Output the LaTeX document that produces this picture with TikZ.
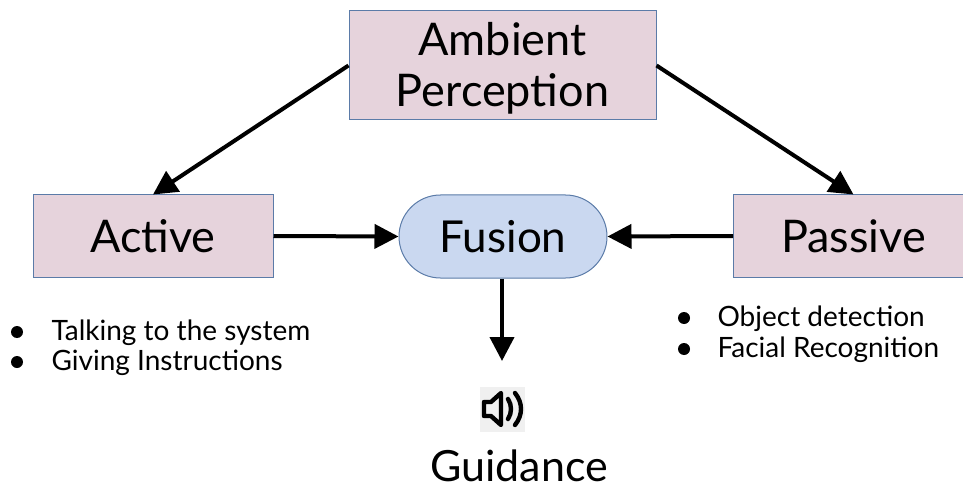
\documentclass[tikz,border=0pt]{standalone}
\usepackage{fontspec}
\setmainfont{Lato}
\usetikzlibrary{positioning,shapes.misc,arrows.meta}
\definecolor{boxpink}{HTML}{E6D3DC}
\definecolor{boxblue}{HTML}{CAD8F0}
\definecolor{boxline}{HTML}{5B7BA8}
\begin{document}
\begin{tikzpicture}[x=1pt,y=-1pt,
    sourcebox/.style={draw=boxline,fill=boxpink,line width=1pt,inner sep=0pt,align=center,font=\fontsize{45}{51}\selectfont},
    fusionbox/.style={draw=boxline,fill=boxblue,line width=1pt,rounded rectangle,inner sep=0pt,font=\fontsize{44}{52}\selectfont},
    flow/.style={line width=4pt,-{Triangle[length=24pt,width=24pt]}},
    notes/.style={anchor=west,font=\fontsize{28}{34}\selectfont},
    dot/.style={circle,fill=black,inner sep=0pt,minimum size=12pt}]
  \useasboundingbox (0,0) rectangle (963,489);
  % boxes
  \node[sourcebox,minimum width=307pt,minimum height=109pt,text height=90pt] (ambient) at (502.5,65.5) {Ambient\\Perception};
  \node[sourcebox,minimum width=240pt,minimum height=82pt] (active) at (153,236) {Active};
  \node[sourcebox,minimum width=240pt,minimum height=82pt,anchor=west] (passive) at (733,236) {Passive};
  \node[fusionbox,minimum width=208pt,minimum height=83pt] (fusion) at (503,236.5) {Fusion};
  % loose end of the arrow
  \coordinate (guide) at (502,361);
  \draw[flow] (ambient.west) -- (active.north);
  \draw[flow] (ambient.east) -- (passive.north);
  \draw[flow] (active.east) -- (fusion.west);
  \draw[flow] (passive.west) -- (fusion.east);
  \draw[flow] (fusion.south -| guide) -- (guide);
  % bullet lists
  \foreach [count=\i] \lab in {Talking to the system,Giving Instructions} {
    \node[dot] (ldot\i) at (17,302+\i*30) {};
    \node[notes] (left\i) at (48,303+\i*30) {\lab};
  }
  \foreach [count=\i] \lab in {Object detection,Facial Recognition} {
    \node[dot] (rdot\i) at (684,287+\i*31) {};
    \node[notes] (right\i) at (714,288+\i*31) {\lab};
  }
  % speaker
  \node[fill=black!6,minimum size=45pt,inner sep=0pt] (icon) at (502.5,409) {};
  \draw[line width=4.4pt,line join=round] (484,402) -- (491,402) -- (501,393) -- (501,425) -- (491,416) -- (484,416) -- cycle;
  \draw[line width=4.4pt,line cap=round] (508,399) .. controls (512,405) and (512,413) .. (508,419);
  \draw[line width=4.4pt,line cap=round] (515,393) .. controls (523,403) and (523,415) .. (515,425);
  \node[font=\fontsize{43}{50}\selectfont] (guidance) at (519,466) {Guidance};
\end{tikzpicture}
\end{document}
